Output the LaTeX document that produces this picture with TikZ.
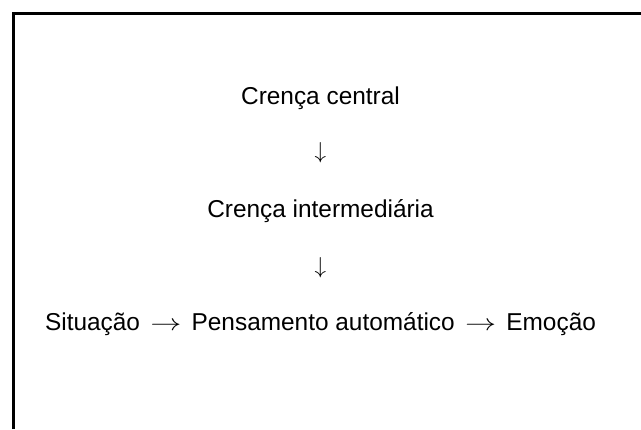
\documentclass[tikz,border=0pt]{standalone}
\usepackage{fontspec}
\usepackage{graphicx}
\setmainfont{Liberation Sans}
\newcommand{\myra}{\hspace{0.42em}\scalebox{1.35}[1]{$\rightarrow$}\hspace{0.42em}}
\begin{document}
\begin{tikzpicture}[x=0.75pt,y=-0.75pt,
  txt/.style={anchor=base,inner sep=0pt,font=\fontsize{18.3pt}{22pt}\selectfont},
  frame/.style={line width=1.9pt}]
\useasboundingbox (0,0) rectangle (641,429);
\draw[frame] (13.5,429) coordinate (bl) -- (13.5,13.5) coordinate (tl) -- (641,13.5) coordinate (tr);
\node[txt] (cc) at (320.5,104) {Crença central};
\node[txt] (a1) at (320.5,158) {$\downarrow$};
\node[txt] (ci) at (320.5,217) {Crença intermediária};
\node[txt] (a2) at (320.5,273) {$\downarrow$};
\node[txt] (sit) at (320.5,330) {Situação\myra Pensamento automático\myra Emoção};
\end{tikzpicture}
\end{document}
